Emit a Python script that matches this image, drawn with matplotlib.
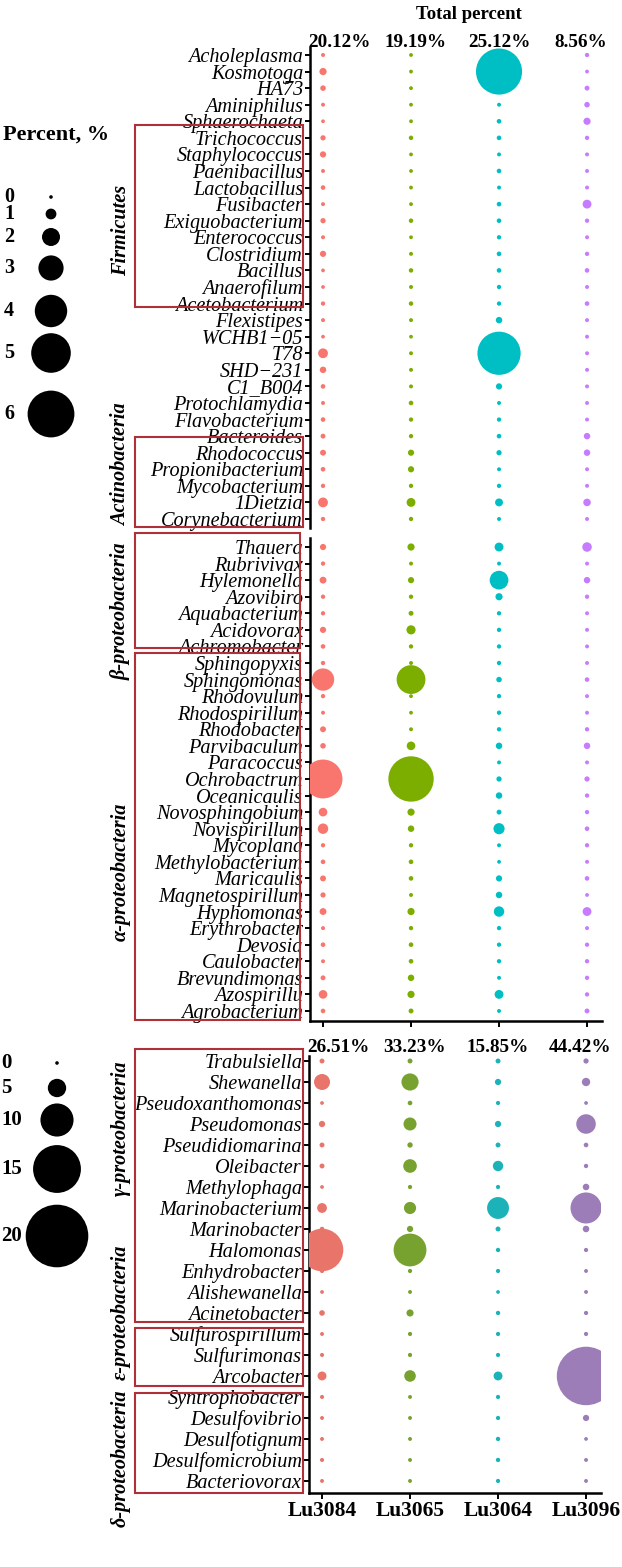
import numpy as np
import matplotlib
matplotlib.use("Agg")
import matplotlib.pyplot as plt
from matplotlib.patches import Rectangle
from matplotlib import transforms

plt.rcParams["font.family"] = ["Liberation Serif", "DejaVu Serif"]

# ---------------- data ----------------
samples = ["Lu3084", "Lu3065", "Lu3064", "Lu3096"]
total_top = ["20.12%", "19.19%", "25.12%", "8.56%"]
total_bottom = ["26.51%", "33.23%", "15.85%", "44.42%"]

genera_a = ["Acholeplasma", "Kosmotoga", "HA73", "Aminiphilus", "Sphaerochaeta",
            "Trichococcus", "Staphylococcus", "Paenibacillus", "Lactobacillus",
            "Fusibacter", "Exiguobacterium", "Enterococcus", "Clostridium",
            "Bacillus", "Anaerofilum", "Acetobacterium", "Flexistipes",
            "WCHB1\u221205", "T78", "SHD\u2212231", "C1_B004", "Protochlamydia",
            "Flavobacterium", "Bacteroides", "Rhodococcus", "Propionibacterium",
            "Mycobacterium", "1Dietzia", "Corynebacterium"]
a_lu3084 = [0.05, 0.5, 0.27, 0.05, 0.02, 0.23, 0.36, 0.05, 0.14, 0.05, 0.23, 0.05,
            0.36, 0.02, 0.02, 0.1, 0.05, 0.02, 0.86, 0.4, 0.14, 0.05, 0.14, 0.18,
            0.32, 0.14, 0.1, 0.86, 0.1]
a_lu3065 = [0.03, 0.03, 0.03, 0.03, 0.03, 0.12, 0.03, 0.03, 0.03, 0.03, 0.12, 0.03,
            0.05, 0.12, 0.05, 0.12, 0.05, 0.02, 0.05, 0.05, 0.05, 0.14, 0.1, 0.1,
            0.36, 0.36, 0.1, 0.73, 0.1]
a_lu3064 = [0.1, 5.9, 0.1, 0.05, 0.14, 0.14, 0.05, 0.14, 0.05, 0.14, 0.14, 0.1,
            0.14, 0.14, 0.1, 0.1, 0.4, 0.1, 5.5, 0.1, 0.36, 0.05, 0.1, 0.14,
            0.23, 0.05, 0.1, 0.6, 0.05]
a_lu3096 = [0.1, 0.03, 0.18, 0.27, 0.5, 0.1, 0.05, 0.05, 0.05, 0.73, 0.1, 0.05,
            0.1, 0.14, 0.05, 0.14, 0.05, 0.05, 0.05, 0.05, 0.05, 0.05, 0.05, 0.4,
            0.4, 0.05, 0.05, 0.55, 0.05]

genera_b = ["Thauera", "Rubrivivax", "Hylemonella", "Azovibiro", "Aquabacterium",
            "Acidovorax", "Achromobacter", "Sphingopyxis", "Sphingomonas",
            "Rhodovulum", "Rhodospirillum", "Rhodobacter", "Parvibaculum",
            "Paracoccus", "Ochrobactrum", "Oceanicaulis", "Novosphingobium",
            "Novispirillum", "Mycoplana", "Methylobacterium", "Maricaulis",
            "Magnetospirillum", "Hyphomonas", "Erythrobacter", "Devosia",
            "Caulobacter", "Brevundimonas", "Azospirillu", "Agrobacterium"]
b_lu3084 = [0.36, 0.1, 0.45, 0.1, 0.1, 0.36, 0.14, 0.1, 2.6, 0.1, 0.05, 0.32,
            0.27, 0.1, 4.9, 0.1, 0.7, 0.95, 0.1, 0.14, 0.32, 0.23, 0.45, 0.05,
            0.14, 0.05, 0.18, 0.7, 0.14]
b_lu3065 = [0.5, 0.05, 0.36, 0.1, 0.18, 0.77, 0.1, 0.05, 3.5, 0.03, 0.03, 0.05,
            0.7, 0.05, 5.8, 0.05, 0.5, 0.4, 0.1, 0.14, 0.14, 0.05, 0.5, 0.1,
            0.14, 0.14, 0.4, 0.5, 0.18]
b_lu3064 = [0.73, 0.05, 2.1, 0.5, 0.1, 0.1, 0.1, 0.1, 0.27, 0.1, 0.1, 0.1,
            0.4, 0.05, 0.23, 0.4, 0.18, 1.05, 0.05, 0.03, 0.36, 0.4, 0.95, 0.1,
            0.1, 0.1, 0.05, 0.73, 0.05]
b_lu3096 = [0.82, 0.05, 0.4, 0.1, 0.05, 0.05, 0.05, 0.05, 0.14, 0.05, 0.05, 0.1,
            0.4, 0.05, 0.23, 0.1, 0.1, 0.14, 0.1, 0.05, 0.14, 0.03, 0.73, 0.05,
            0.1, 0.1, 0.1, 0.1, 0.18]

genera_c = ["Trabulsiella", "Shewanella", "Pseudoxanthomonas", "Pseudomonas",
            "Pseudidiomarina", "Oleibacter", "Methylophaga", "Marinobacterium",
            "Marinobacter", "Halomonas", "Enhydrobacter", "Alishewanella",
            "Acinetobacter", "Sulfurospirillum", "Sulfurimonas", "Arcobacter",
            "Syntrophobacter", "Desulfovibrio", "Desulfotignum",
            "Desulfomicrobium", "Bacteriovorax"]
c_lu3084 = [0.44, 4.2, 0.05, 0.9, 0.44, 0.44, 0.05, 2.1, 0.3, 13.2, 0.2, 0.05,
            0.67, 0.1, 0.15, 1.8, 0.15, 0.1, 0.1, 0.15, 0.1]
c_lu3065 = [0.45, 4.6, 0.35, 3.2, 0.6, 3.4, 0.2, 2.9, 0.9, 9.9, 0.2, 0.1,
            1.2, 0.2, 0.2, 2.7, 0.1, 0.1, 0.1, 0.1, 0.1]
c_lu3064 = [0.45, 0.9, 0.2, 0.9, 0.45, 2.3, 0.2, 6.2, 0.45, 0.25, 0.2, 0.05,
            0.25, 0.2, 0.2, 1.8, 0.2, 0.2, 0.25, 0.25, 0.2]
c_lu3096 = [0.55, 1.6, 0.05, 5.4, 0.35, 0.25, 1.0, 9.3, 1.0, 0.2, 0.1, 0.1,
            0.2, 0.2, 0.2, 18.6, 0.1, 0.9, 0.05, 0.1, 0.1]

legend_top = [0, 1, 2, 3, 4, 5, 6]
legend_bottom = [0, 5, 10, 15, 20]

# ---------------- layout ----------------
W, H = 622, 1567
colors_top = ["#F8766D", "#7CAE00", "#00BFC4", "#C77CFF"]
colors_bottom = ["#E8746A", "#78A22F", "#1CB3B8", "#9C7DB8"]
box_color = "#B0303A"

fig = plt.figure(figsize=(W / 100, H / 100), dpi=100)


def px_axes(left, top, right, bottom):
    return fig.add_axes([left / W, 1 - bottom / H, (right - left) / W, (bottom - top) / H])


def bubble(vals, k):
    # diameter in px grows linearly with percent
    d = 3.6 + k * np.asarray(vals, dtype=float)
    return (d * 0.72) ** 2


def panel(ax, genera, cols, colors, k, ylim, bottom_axis):
    rows = np.arange(len(genera))
    for i, (vals, c) in enumerate(zip(cols, colors)):
        ax.scatter(np.full(len(vals), i), rows, s=bubble(vals, k), color=c,
                   edgecolors="none", zorder=3)
    ax.set_xlim(-0.148, 3.17)
    ax.set_ylim(*ylim)
    ax.set_yticks(rows)
    ax.set_yticklabels(genera, fontstyle="italic", fontsize=14.6)
    ax.tick_params(axis="y", length=3.8, width=1.4, pad=1.2)
    for s in ["top", "right"]:
        ax.spines[s].set_visible(False)
    ax.spines["left"].set_linewidth(1.8)
    if bottom_axis:
        ax.spines["bottom"].set_linewidth(1.8)
        ax.set_xticks(range(4))
        ax.tick_params(axis="x", length=4.5, width=1.4)
    else:
        ax.spines["bottom"].set_visible(False)
        ax.set_xticks([])
    ax.patch.set_alpha(0)


ax_a = px_axes(310, 46.7, 602, 528.1)
panel(ax_a, genera_a, [a_lu3084, a_lu3065, a_lu3064, a_lu3096], colors_top, 7.2,
      (28.55, -0.5), False)

ax_b = px_axes(310, 537.9, 602, 1020.9)
panel(ax_b, genera_b, [b_lu3084, b_lu3065, b_lu3064, b_lu3096], colors_top, 7.2,
      (28.6, -0.55), True)
ax_b.set_xticklabels([])

ax_c = px_axes(309, 1055.75, 601, 1492.5)
panel(ax_c, genera_c, [c_lu3084, c_lu3065, c_lu3064, c_lu3096], colors_bottom, 2.95,
      (20.55, -0.25), True)
ax_c.set_xticklabels(samples, fontweight="bold", fontsize=15.5)
ax_c.tick_params(axis="x", pad=1.5)

# overlay in pixel coords for legends, boxes, labels
ov = fig.add_axes([0, 0, 1, 1])
ov.set_xlim(0, W)
ov.set_ylim(H, 0)
ov.axis("off")
ov.patch.set_alpha(0)

# header texts
ov.text(469, 19, "Total percent", ha="center", va="baseline",
        fontweight="bold", fontsize=13.5)
hdr_shift = [0.19, 0.05, 0.0, -0.07]
for ax, labels, y in [(ax_a, total_top, 47), (ax_c, total_bottom, 1052)]:
    tr = transforms.blended_transform_factory(ax.transData, ov.transData)
    for i, lab in enumerate(labels):
        ov.text(i + hdr_shift[i], y, lab, transform=tr, ha="center", va="baseline",
                fontweight="bold", fontsize=13.8)

# group boxes (rows in panel units) and group labels
boxes = [(ax_a, 135, 303, 4.22, 15.21), (ax_a, 135, 303, 23.05, 28.49),
         (ax_b, 135, 300, -0.84, 6.1), (ax_b, 135, 300, 6.4, 28.54),
         (ax_c, 135, 303, -0.57, 12.43), (ax_c, 135, 303, 12.71, 15.48),
         (ax_c, 135, 303, 15.81, 20.57)]
for ax, x0, x1, r0, r1 in boxes:
    tr = transforms.blended_transform_factory(ov.transData, ax.transData)
    ov.add_patch(Rectangle((x0, r0), x1 - x0, r1 - r0, transform=tr, fill=False,
                           edgecolor=box_color, linewidth=1.5, clip_on=False, zorder=5))

groups = [(ax_a, 10.6, "Firmicutes"), (ax_a, 24.7, "Actinobacteria"),
          (ax_b, 3.9, "\u03b2-proteobacteria"), (ax_b, 19.6, "\u03b1-proteobacteria"),
          (ax_c, 3.2, "\u03b3-proteobacteria"), (ax_c, 11.95, "\u03b5-proteobacteria"),
          (ax_c, 18.9, "\u03b4-proteobacteria")]
for ax, r, name in groups:
    tr = transforms.blended_transform_factory(ov.transData, ax.transData)
    ov.text(121, r, name, transform=tr, rotation=90, ha="center", va="center",
            fontweight="bold", fontstyle="italic", fontsize=14.6)

# size legends
ov.text(3, 135, "Percent, %", ha="left", va="center", fontweight="bold", fontsize=16)
leg_top_y = [197, 214, 237, 268, 311, 353, 414]
ov.scatter([51] * len(legend_top), leg_top_y, s=bubble(legend_top, 7.2),
           color="black", edgecolors="none")
for v, y in zip(legend_top, leg_top_y):
    ov.text(4, y, str(v), ha="left", va="center", fontweight="bold", fontsize=14.5)

leg_bot_y = [1063, 1088, 1120, 1169, 1236]
ov.scatter([57] * len(legend_bottom), leg_bot_y, s=bubble(legend_bottom, 2.95),
           color="black", edgecolors="none")
for v, y in zip(legend_bottom, leg_bot_y):
    ov.text(1, y, str(v), ha="left", va="center", fontweight="bold", fontsize=15)

fig.savefig("out.png", dpi=100)
